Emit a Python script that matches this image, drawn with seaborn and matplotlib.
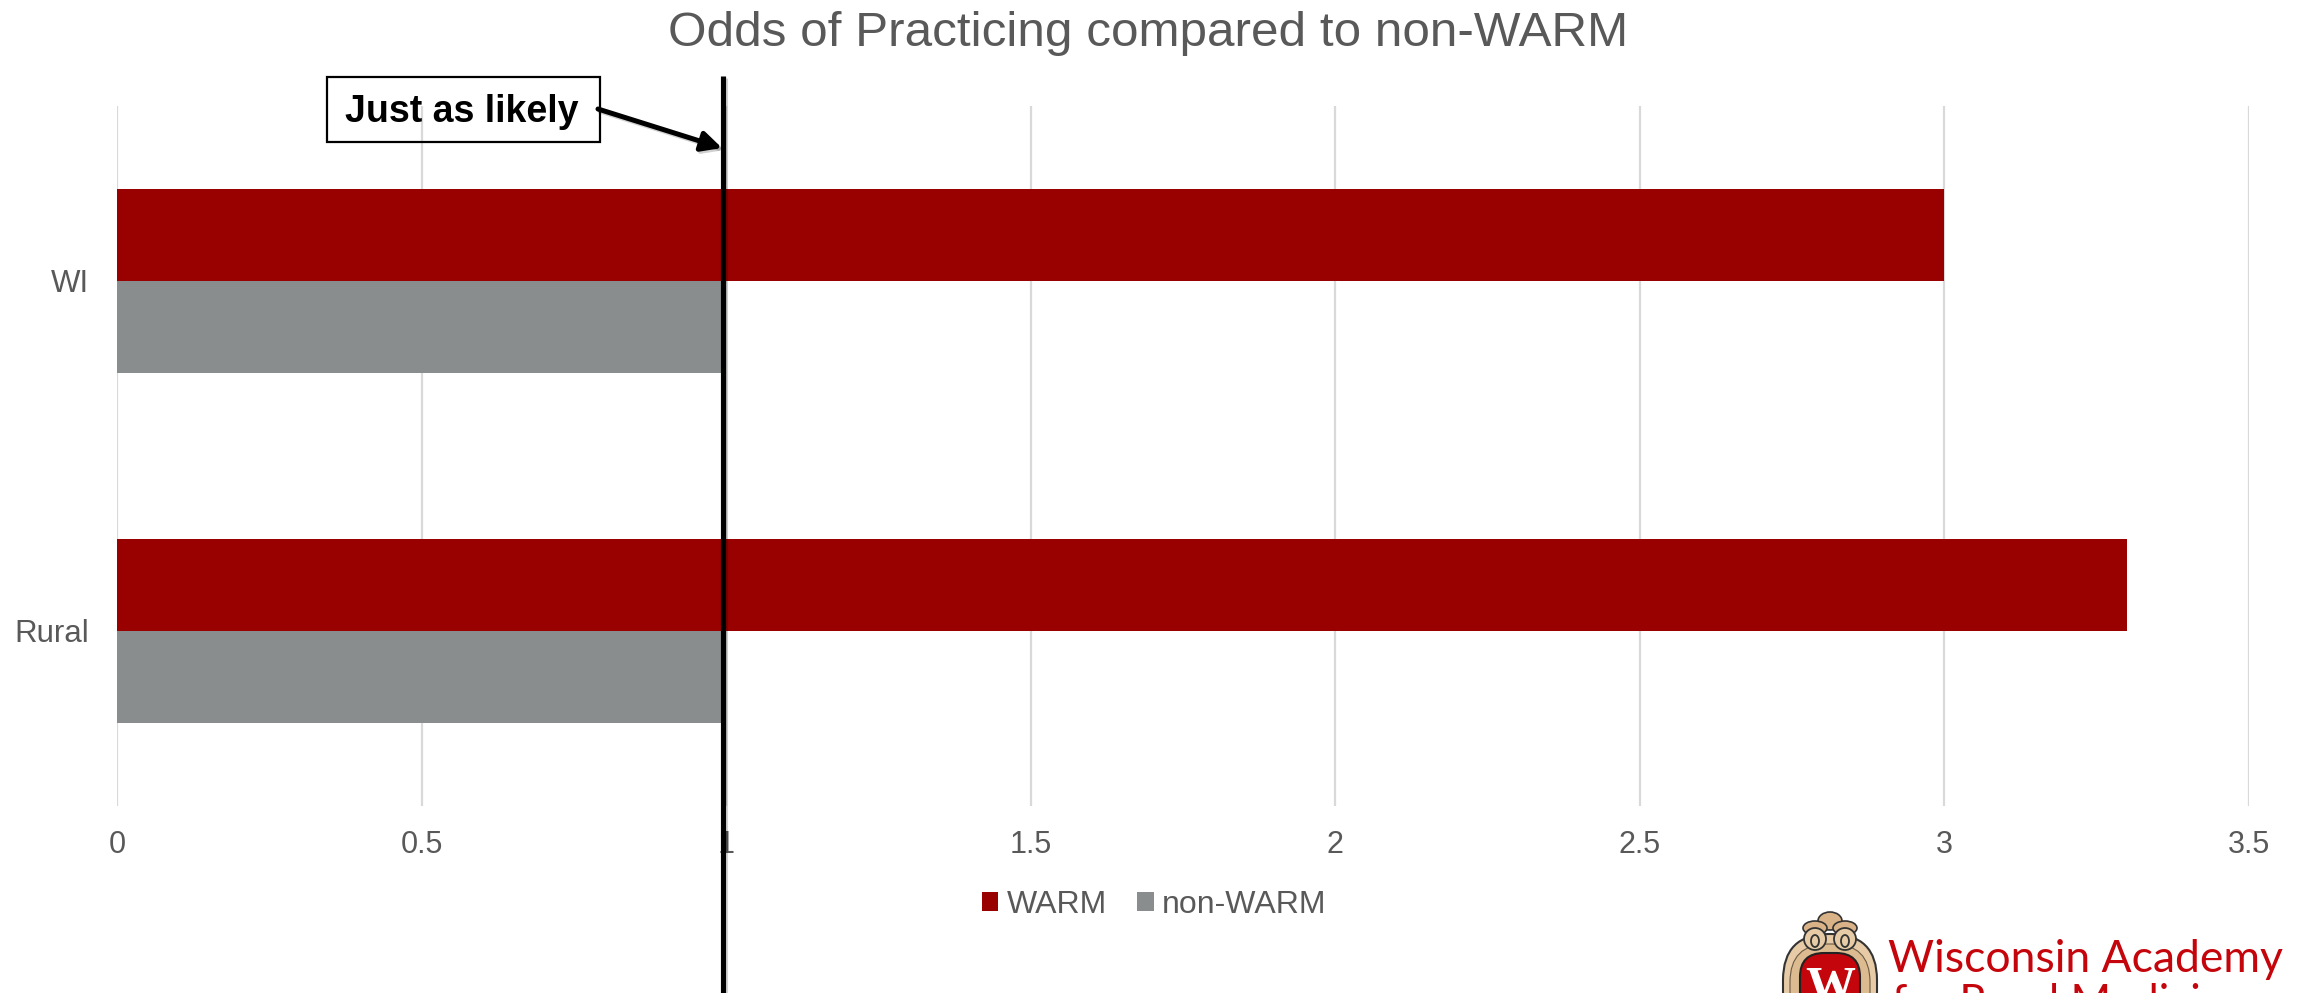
import pandas as pd
import seaborn as sns
import matplotlib.pyplot as plt
import matplotlib.patheffects as pe
from matplotlib.patches import Ellipse, FancyBboxPatch

regions = ["WI", "Rural"]
warm_odds = [3.0, 3.3]
non_warm_odds = [1.0, 1.0]
x_ticks = [0, 0.5, 1, 1.5, 2, 2.5, 3, 3.5]
x_tick_labels = ["0", "0.5", "1", "1.5", "2", "2.5", "3", "3.5"]

W, H = 2300, 993
TEXT = "#595959"
LOGO_RED = "#C5050C"
INK = "#333333"

df = pd.DataFrame({
    "region": regions * 2,
    "group": ["WARM"] * 2 + ["non-WARM"] * 2,
    "odds": warm_odds + non_warm_odds,
})

sns.set_theme(style="white")
plt.rcParams["font.family"] = ["Liberation Sans", "DejaVu Sans"]

fig = plt.figure(figsize=(W / 100, H / 100), dpi=100)
ax = fig.add_axes([117 / W, 1 - 806 / H, 2132 / W, 700 / H])
ax.set_axisbelow(True)

sns.barplot(
    data=df, y="region", x="odds", hue="group", ax=ax, orient="h",
    palette=["#990000", "#8A8D8E"], width=0.523, gap=0, saturation=1, linewidth=0,
)
ax.set_xlim(0, 3.5)
ax.set_ylim(1.5, -0.5)
ax.set_xlabel("")
ax.set_ylabel("")
ax.set_xticks(x_ticks, x_tick_labels)
ax.grid(axis="x", color="#D9D9D9", linewidth=1.6)
ax.grid(axis="y", visible=False)
ax.tick_params(axis="x", length=0, pad=17, labelsize=22, labelcolor=TEXT)
ax.tick_params(axis="y", length=0, pad=20, labelsize=22.5, labelcolor=TEXT)
sns.despine(ax=ax, left=True, bottom=True)

sns.move_legend(
    ax, "center", bbox_to_anchor=(1154 / W, 1 - 905 / H),
    bbox_transform=fig.transFigure, ncol=2, frameon=False, title=None,
    fontsize=23, handlelength=0.52, handleheight=0.52, handletextpad=0.25,
    columnspacing=0.95, labelcolor=TEXT,
)

fig.text(1148 / W, 1 - 34 / H, "Odds of Practicing compared to non-WARM",
         ha="center", va="center", fontsize=35.6, color=TEXT)

# overlay in pixel coordinates for the callout and the logo
over = fig.add_axes([0, 0, 1, 1], facecolor="none")
over.set_xlim(0, W)
over.set_ylim(H, 0)
over.axis("off")

shadow = [pe.SimpleLineShadow(offset=(1.5, -1.5), alpha=0.18, shadow_color="black"), pe.Normal()]
over.plot([723, 723], [76, H], color="black", linewidth=3.7, solid_capstyle="butt",
          path_effects=shadow)
over.annotate(
    "", xy=(722, 148), xytext=(598, 109),
    arrowprops=dict(arrowstyle="-|>", color="black", linewidth=3.6, mutation_scale=30,
                    shrinkA=0, shrinkB=0, path_effects=shadow),
)
over.text(462, 112, "Just as likely", ha="center", va="center", fontsize=27,
          fontweight="bold", color="black")
over.add_patch(plt.Rectangle((327, 77), 273, 65, facecolor="none", edgecolor="black", linewidth=1.6))

# crest, roughly
for cx, cy, w, h in [(1830, 921, 24, 18), (1815, 928, 24, 14), (1845, 928, 24, 14)]:
    over.add_patch(Ellipse((cx, cy), w, h, facecolor="#D9B387", edgecolor=INK, linewidth=1.2))
over.add_patch(FancyBboxPatch((1783, 934), 94, 200, boxstyle="round,pad=0,rounding_size=46",
                              facecolor="#E6CBA6", edgecolor=INK, linewidth=1.5))
over.add_patch(FancyBboxPatch((1790, 944), 80, 180, boxstyle="round,pad=0,rounding_size=38",
                              facecolor="#DDBB90", edgecolor="#6B5A45", linewidth=0.8))
for cx in (1815, 1845):
    over.add_patch(Ellipse((cx, 939), 22, 22, facecolor="#E6CBA6", edgecolor=INK, linewidth=1.3))
    over.add_patch(Ellipse((cx, 941), 8, 12, facecolor="none", edgecolor=INK, linewidth=1.3))
over.add_patch(FancyBboxPatch((1800, 953), 60, 150, boxstyle="round,pad=0,rounding_size=24",
                              facecolor=LOGO_RED, edgecolor="#222222", linewidth=1.5))
over.text(1830, 1001, "W", ha="center", va="baseline", fontsize=36, fontweight="bold",
          family="Liberation Serif", color="white")

over.text(1888, 972, "Wisconsin Academy", ha="left", va="baseline", fontsize=32,
          family="Lato", color=LOGO_RED)
over.text(1892, 1016, "for Rural Medicine", ha="left", va="baseline", fontsize=31.5,
          family="Lato", color=LOGO_RED)

fig.savefig("out.png", dpi=100, facecolor="white")
